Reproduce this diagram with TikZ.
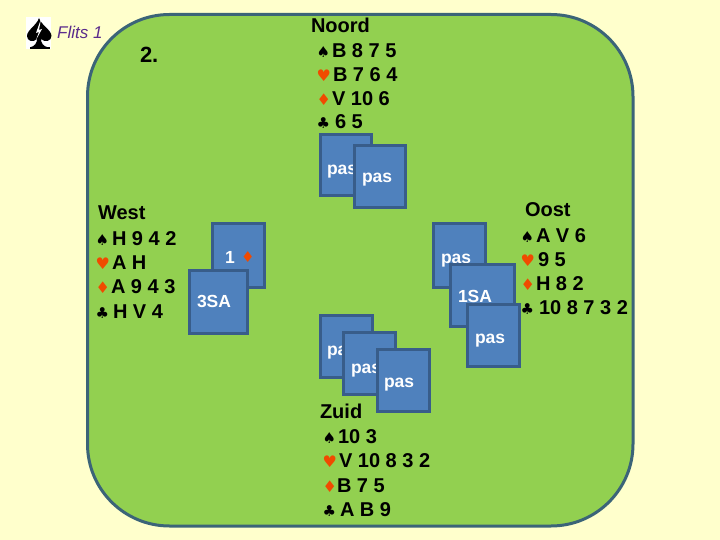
\documentclass[tikz,border=0pt]{standalone}
\usepackage{fontspec}
\setmainfont{Liberation Sans}
\newfontfamily\suitfont{DejaVu Sans}
\definecolor{bgc}{HTML}{FFFFCC}
\definecolor{feltc}{HTML}{92D050}
\definecolor{rimc}{HTML}{3B6478}
\definecolor{cardc}{HTML}{4F81BD}
\definecolor{cardl}{HTML}{385D8A}
\definecolor{redc}{HTML}{F04A00}
\definecolor{purp}{HTML}{5B2C8C}
\tikzset{
  txt/.style={anchor=base west,inner sep=0pt,outer sep=0pt,font=\bfseries\fontsize{20}{24}\selectfont,text=black},
  blk/.style={anchor=base west,inner sep=0pt,outer sep=0pt,font=\suitfont\fontsize{15}{18}\selectfont,text=black},
  rd/.style={anchor=base west,inner sep=0pt,outer sep=0pt,font=\suitfont\fontsize{16}{18}\selectfont,text=redc},
  cardlab/.style={anchor=base west,inner sep=0pt,outer sep=0pt,font=\bfseries\fontsize{17.5}{20}\selectfont,text=white},
  cardbox/.style={draw=cardl,fill=cardc,line width=3pt}
}
\newcommand{\hand}[5]{%
 \node[blk] at (#1,#2) {♠}; \node[rd] at (#1,#3) {♥}; \node[rd] at (#1,#4) {♦}; \node[blk] at (#1,#5) {♣};
}
\newcommand{\cardrow}[7]{%
 \draw[cardbox] (#1,#2) rectangle (#3,#4);
 \node[cardlab] at (#5,#6) {#7};
}
\begin{document}
\begin{tikzpicture}[x=1pt,y=-1pt]
\useasboundingbox (0,0) rectangle (720,540);
\fill[bgc] (0,0) rectangle (720,540);
\draw[rimc,fill=feltc,line width=3pt,rounded corners=82pt] (87.5,14.5) rectangle (633,526);
% logo
\fill[white] (26,17) rectangle (51,49.5);
\fill[black] (39,18) .. controls (37,25) and (27,30) .. (27,36) .. controls (27,41) and (33,43) .. (37,39) .. controls (37,43) and (35,46) .. (30,47.5) -- (48,47.5) .. controls (43,46) and (41,43) .. (41,39) .. controls (45,43) and (51.5,41) .. (51.5,36) .. controls (51.5,30) and (41,25) .. (39,18) -- cycle;
\fill[black] (29.5,47.5) rectangle (49.5,48.8);
\fill[white] (41,19) -- (36,33) -- (39,32) -- (36,40) -- (42,29) -- (39,30) -- cycle;
\node[anchor=base west,inner sep=0pt,font=\itshape\fontsize{17}{20}\selectfont,text=purp] at (57,39) {Flits 1};
\node[txt,font=\bfseries\fontsize{22}{26}\selectfont] at (140,63) {2.};
% North
\node[txt] at (311,33) {Noord};
\hand{316.5}{58}{82}{106}{129}
\node[txt] at (332,58) {B 8 7 5};
\node[txt] at (333,82) {B 7 6 4};
\node[txt] at (332,106) {V 10 6};
\node[txt] at (335,129) {6 5};
\cardrow{320.5}{134.5}{371.5}{196}{327}{175}{pas}
\cardrow{354}{145.5}{405.5}{207.5}{362}{183}{pas}
% West
\node[txt] at (98,219) {West};
\hand{95.5}{245}{269}{293}{318}
\node[txt] at (112,245) {H 9 4 2};
\node[txt] at (112,269) {A H};
\node[txt] at (111,293) {A 9 4 3};
\node[txt] at (113,318) {H V 4};
\cardrow{212.5}{224}{264}{287.5}{225}{263}{1}
\node[rd,font=\suitfont\fontsize{15}{16}\selectfont] at (241,262) {♦};
\cardrow{189.5}{270.5}{247}{333}{197}{307}{3SA}
% East
\node[txt] at (525,217) {Oost};
\hand{520.5}{242}{266}{290}{314}
\node[txt] at (536,242) {A V 6};
\node[txt] at (538,266) {9 5};
\node[txt] at (536,290) {H 8 2};
\node[txt] at (539,314) {10 8 7 3 2};
\cardrow{433.5}{224}{485}{287.5}{441}{263}{pas}
\cardrow{450.5}{264.5}{514}{326.5}{458}{302}{1SA}
\cardrow{467.5}{304.5}{519}{366.5}{475}{343}{pas}
% South
\cardrow{320.5}{315.5}{372}{377.5}{327}{355}{pas}
\cardrow{343}{332.5}{395}{394.5}{351}{373}{pas}
\cardrow{377.5}{349.5}{429}{411.5}{384}{387}{pas}
\node[txt] at (320,418) {Zuid};
\hand{322.5}{443}{467}{492}{516}
\node[txt] at (338,443) {10 3};
\node[txt] at (339,467) {V 10 8 3 2};
\node[txt] at (337,492) {B 7 5};
\node[txt] at (340,516) {A B 9};
\end{tikzpicture}
\end{document}
